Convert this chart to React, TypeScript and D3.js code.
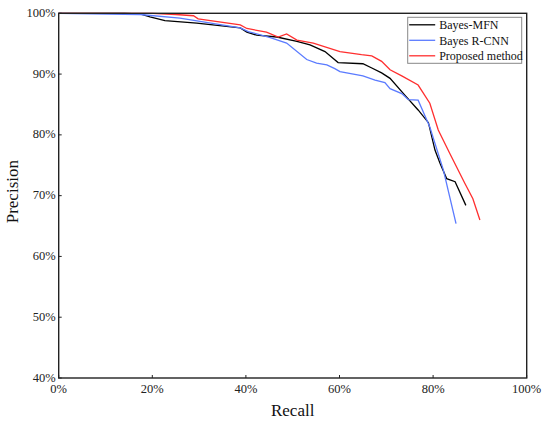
import * as d3 from "d3";

const xTickValues = [0, 20, 40, 60, 80, 100];
const yTickValues = [40, 50, 60, 70, 80, 90, 100];

const mfnRecall = [0, 14, 17.4, 19.5, 22.7, 29.5, 38.8, 40.2, 42.3, 46.6, 50.9, 53.7, 56.9, 59.7, 65, 66.9, 69, 70.8, 74, 76.8, 79, 80.4, 81.5, 82.9, 84.7, 87];
const mfnPrecision = [100, 100, 99.9, 99.4, 98.8, 98.4, 97.6, 96.9, 96.4, 96.1, 95.4, 94.8, 93.7, 91.9, 91.7, 91.0, 90.2, 89.3, 86.5, 84.1, 82.0, 77.5, 75.3, 72.8, 72.3, 68.4];

const rcnnRecall = [0, 17.4, 25.9, 38.8, 40.5, 45.2, 48.7, 53, 55.1, 57.3, 59, 60.1, 65, 67.6, 69.7, 70.8, 73.3, 74.7, 76.8, 79.3, 82.2, 84.9];
const rcnnPrecision = [100, 99.8, 99.2, 97.6, 97.0, 96.0, 95.1, 92.4, 91.8, 91.5, 90.9, 90.4, 89.7, 89.0, 88.6, 87.6, 86.8, 85.8, 85.7, 81.3, 74.2, 65.4];

const proposedRecall = [0, 20, 25, 28.8, 29.8, 38.8, 40.2, 44.4, 46.9, 48.7, 50.9, 54.4, 60.1, 64.7, 66.9, 69, 70.8, 73.3, 76.8, 79.3, 81.1, 83.6, 86.8, 88.5, 90];
const proposedPrecision = [100, 100, 99.8, 99.6, 99.1, 98.1, 97.5, 96.9, 96.1, 96.6, 95.6, 95.1, 93.7, 93.2, 93.0, 92.1, 90.7, 89.7, 88.2, 85.2, 80.8, 76.9, 72.0, 69.5, 66.0];

const seriesNames = ["Bayes-MFN", "Bayes R-CNN", "Proposed method"];
const seriesColors = ["#000000", "#5b7bff", "#ff2f2f"];

type Point = { recall: number; precision: number };

function toPoints(recall: number[], precision: number[]): Point[] {
  return recall.map((r, i) => ({ recall: r, precision: precision[i] }));
}

export default function App() {
  const width = 550;
  const height = 422;
  const margin = { top: 13.3, right: 23.3, bottom: 44, left: 58.7 };
  const x = d3.scaleLinear([0, 100], [margin.left, width - margin.right]);
  const y = d3.scaleLinear([40, 100], [height - margin.bottom, margin.top]);
  const line = d3
    .line<Point>()
    .x((p) => x(p.recall))
    .y((p) => y(p.precision));
  const series = [
    toPoints(mfnRecall, mfnPrecision),
    toPoints(rcnnRecall, rcnnPrecision),
    toPoints(proposedRecall, proposedPrecision)
  ];
  const font = "'Liberation Serif', 'Times New Roman', serif";
  const plotBottom = height - margin.bottom;
  const plotRight = width - margin.right;
  const legend = { x: 407.7, y: 17.3, w: 114, h: 46, row: 15.5 };

  return (
    <div style={{ position: "fixed", left: 0, top: 0 }}>
      <svg width={width} height={height} viewBox={`0 0 ${width} ${height}`} style={{ display: "block", background: "#fff" }}>
        {series.map((points, i) => (
          <path key={seriesNames[i]} d={line(points) ?? undefined} fill="none" stroke={seriesColors[i]} strokeWidth={1.3} />
        ))}
        <rect x={margin.left} y={margin.top} width={plotRight - margin.left} height={plotBottom - margin.top} fill="none" stroke="#222" strokeWidth={1.4} />
        {xTickValues.map((t) => (
          <g key={`x${t}`}>
            <line x1={x(t)} x2={x(t)} y1={plotBottom} y2={plotBottom - 3} stroke="#222" strokeWidth={1} />
            <text x={x(t)} y={plotBottom + 15} textAnchor="middle" fontFamily={font} fontSize={12.5} fill="#222">
              {t}%
            </text>
          </g>
        ))}
        {yTickValues.map((t) => (
          <g key={`y${t}`}>
            <line x1={margin.left} x2={margin.left + 3} y1={y(t)} y2={y(t)} stroke="#222" strokeWidth={1} />
            <text x={margin.left - 3} y={y(t) + 3.5} textAnchor="end" fontFamily={font} fontSize={12.5} fill="#222">
              {t}%
            </text>
          </g>
        ))}
        <text x={(margin.left + plotRight) / 2} y={415.5} textAnchor="middle" fontFamily={font} fontSize={17} fill="#111">
          Recall
        </text>
        <text transform={`translate(17.5, ${(margin.top + plotBottom) / 2 - 4}) rotate(-90)`} textAnchor="middle" fontFamily={font} fontSize={17} fill="#111">
          Precision
        </text>
        <g>
          <rect x={legend.x} y={legend.y} width={legend.w} height={legend.h} fill="#fff" stroke="#888" strokeWidth={1} />
          {seriesNames.map((name, i) => {
            const rowY = legend.y + 7.5 + i * legend.row;
            return (
              <g key={name}>
                <line x1={legend.x + 1.5} x2={legend.x + 27.5} y1={rowY} y2={rowY} stroke={seriesColors[i]} strokeWidth={1.3} />
                <text x={legend.x + 31.5} y={rowY + 4.2} fontFamily={font} fontSize={12} fill="#111">
                  {name}
                </text>
              </g>
            );
          })}
        </g>
      </svg>
    </div>
  );
}
